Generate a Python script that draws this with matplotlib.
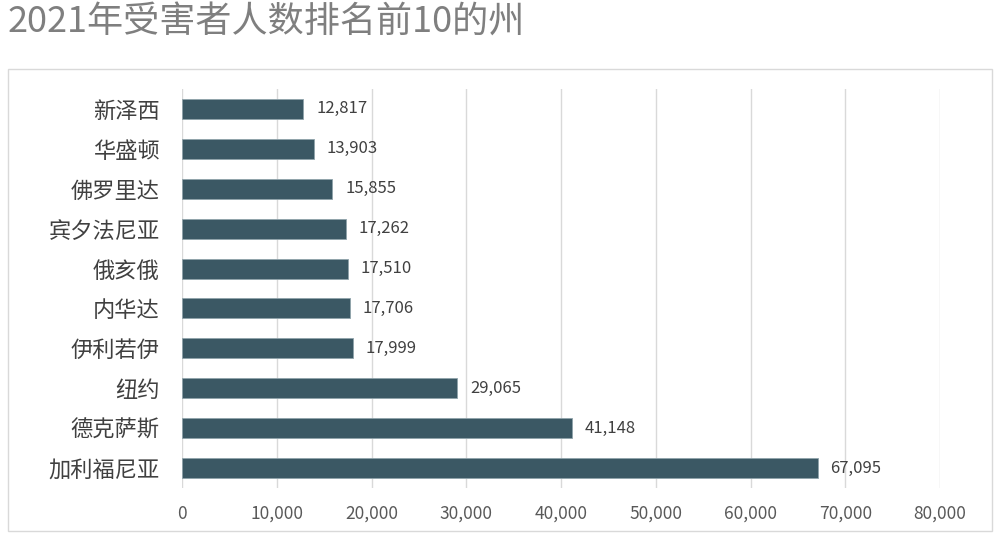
import matplotlib
matplotlib.use('Agg')
import matplotlib.pyplot as plt
from matplotlib.patches import Rectangle

plt.rcParams['font.family'] = ['Noto Sans CJK SC', 'DejaVu Sans']

# Data (top to bottom as shown)
states = ['新泽西', '华盛顿', '佛罗里达', '宾夕法尼亚', '俄亥俄',
          '内华达', '伊利若伊', '纽约', '德克萨斯', '加利福尼亚']
victims = [12817, 13903, 15855, 17262, 17510, 17706, 17999, 29065, 41148, 67095]
xticks = [0, 10000, 20000, 30000, 40000, 50000, 60000, 70000, 80000]

fig = plt.figure(figsize=(10, 5.39), dpi=100)

# outer chart frame
fig.patches.append(Rectangle((0.008, 0.015), 0.984, 0.857, transform=fig.transFigure,
                             fill=False, edgecolor='#d9d9d9', linewidth=1))

fig.text(0.008, 0.958, '2021年受害者人数排名前10的州', fontsize=26, color='#7f7f7f',
         va='center', ha='left')

ax = fig.add_axes([0.182, 0.0946, 0.758, 0.7403])
ypos = list(range(len(states)))
ax.barh(ypos, victims, height=0.5, color='#3b5864', edgecolor='#8fa3ab', linewidth=0.6, zorder=3)
for y, v in zip(ypos, victims):
    ax.text(v + 1350, y, f'{v:,}', va='center', ha='left', fontsize=12, color='#404040')

ax.set_ylim(len(states) - 0.5, -0.5)
ax.set_xlim(0, 80000)
ax.set_yticks(ypos)
ax.set_yticklabels(states, fontsize=16, color='#404040')
ax.set_xticks(xticks)
ax.set_xticklabels([f'{t:,}' for t in xticks], fontsize=12.5, color='#595959')
ax.tick_params(axis='both', length=0)
ax.tick_params(axis='y', pad=16)
ax.tick_params(axis='x', pad=12)
ax.grid(axis='x', color='#d9d9d9', linewidth=1, zorder=0)
for s in ax.spines.values():
    s.set_visible(False)

fig.savefig('out.png', dpi=100)
